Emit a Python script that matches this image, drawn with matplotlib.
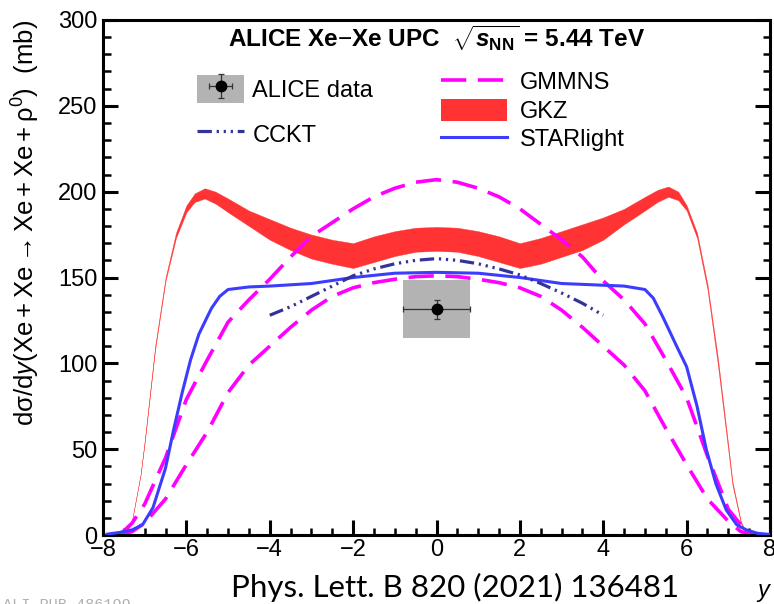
import matplotlib
matplotlib.use("Agg")
import matplotlib.pyplot as plt
from matplotlib.patches import Patch
from matplotlib.lines import Line2D

plt.rcParams['font.family'] = ['Liberation Sans', 'DejaVu Sans']
plt.rcParams['mathtext.fontset'] = 'custom'
plt.rcParams['mathtext.rm'] = 'Liberation Sans'
plt.rcParams['mathtext.it'] = 'Liberation Sans:italic'
plt.rcParams['mathtext.bf'] = 'Liberation Sans:bold'
plt.rcParams['mathtext.bfit'] = 'Liberation Sans:italic:bold'

# GKZ band (lower / upper edge)
gkz_y = [-7.45, -7.3, -7.1, -7.0, -6.75, -6.5, -6.25, -6.0, -5.8, -5.56, -5.3, -5.0,
         -4.5, -4.0, -3.5, -3.0, -2.5, -2.0, -1.5, -1.0, -0.5, 0.0,
         0.5, 1.0, 1.5, 2.0, 2.5, 3.0, 3.5, 4.0, 4.5, 5.0, 5.3, 5.56, 5.8,
         6.0, 6.25, 6.5, 6.75, 7.0, 7.1, 7.3, 7.45]
gkz_hi = [0, 9, 35, 55, 110, 150, 176, 192, 199, 202, 200, 196,
          189, 184, 179, 175, 172, 170, 174, 177, 179, 179.5,
          179, 177, 174, 170, 173, 177, 181, 185, 190, 197, 201, 203, 200,
          192, 176, 146, 103, 52, 31, 8, 0]
gkz_lo = [0, 9, 35, 54, 108, 148, 173, 188, 194, 196, 193, 188,
          180, 172, 166, 161, 158, 155.5, 159, 162.5, 165, 165.5,
          165, 162.5, 159, 155.5, 158, 162, 166, 172, 181, 189, 194, 197, 195,
          189, 173, 143, 99, 49, 29, 7, 0]

# GMMNS (two dashed curves)
gm_y = [-7.6, -7.3, -7.0, -6.5, -6.0, -5.5, -5.0, -4.5, -4.0, -3.5, -3.0, -2.5, -2.0,
        -1.5, -1.0, -0.5, 0.0, 0.5, 1.0, 1.5, 2.0, 2.5, 3.0, 3.5, 4.0, 4.5, 5.0,
        5.5, 6.0, 6.5, 7.0, 7.3, 7.6]
gm_hi = [0, 7, 18, 45, 79, 102, 124, 137, 149, 162, 174, 182, 190,
         197, 202, 205.5, 207, 205.5, 202, 197, 190, 181, 172, 162, 148, 137, 123,
         102, 80, 46, 15, 6, 0]
gm_lo = [0, 2, 7, 21, 41, 60, 83, 99, 110, 121, 131, 139, 144,
         147, 149, 150.5, 151, 150.5, 149, 147, 144, 139, 131, 121, 110, 99, 84,
         62, 41, 21, 8, 2, 0]

# STARlight
sl_y = [-7.9, -7.6, -7.3, -7.05, -6.8, -6.5, -6.3, -6.1, -5.9, -5.7, -5.4, -5.2, -5.0,
        -4.5, -4.0, -3.0, -2.0, -1.0, 0.0, 1.0, 2.0, 3.0, 4.0, 4.5, 5.0, 5.2,
        5.43, 5.78, 6.0, 6.25, 6.47, 6.7, 6.95, 7.2, 7.43, 7.7, 8.0]
sl_v = [0.5, 1.5, 3, 6, 16, 39, 62, 83, 102, 117, 132, 139, 143,
        144.5, 145, 146.5, 150, 152.5, 153, 152.5, 150, 146.5, 145.5, 145, 143, 138,
        127, 109, 98, 75, 50, 30, 14.6, 6, 3, 1, 0.3]

# CCKT
ck_y = [-4.0, -3.5, -3.0, -2.5, -2.0, -1.5, -1.0, -0.5, 0.0, 0.5, 1.0, 1.5, 2.0,
        2.5, 3.0, 3.5, 4.0]
ck_v = [128, 133, 139, 145, 151, 155, 158, 160, 161, 160, 158, 155, 151.5,
        146.5, 141, 135, 128]

# ALICE data point
data_y = [0.0]
data_v = [131.5]
data_stat = [5.5]
data_syst = [17.0]
data_xerr = [0.8]

red = '#ff3333'
magenta = '#ff00ff'
blue = '#3c3cff'
navy = '#333399'
grey = '#b3b3b3'
cckt_ls = (0, (4.5, 1.5, 0.7, 1.5, 0.7, 1.5, 0.7, 1.5))

fig = plt.figure(figsize=(7.74, 6.04), dpi=100)
ax = fig.add_axes([103 / 774, 69 / 604, 667 / 774, 515 / 604])

ax.fill_between(gkz_y, gkz_lo, gkz_hi, color=red, lw=0.25, zorder=1)
ax.plot(gm_y, gm_hi, color=magenta, lw=2.6, ls=(0, (7, 3.2)), zorder=2)
ax.plot(gm_y, gm_lo, color=magenta, lw=2.6, ls=(0, (7, 3.2)), zorder=2)
ax.plot(sl_y, sl_v, color=blue, lw=2.2, zorder=3)
ax.plot(ck_y, ck_v, color=navy, lw=2.3, ls=cckt_ls, zorder=3)

for y, v, e in zip(data_y, data_v, data_syst):
    ax.bar(y, 2 * e, bottom=v - e, width=1.6, color=grey, zorder=4)
eb = ax.errorbar(data_y, data_v, yerr=data_stat, xerr=data_xerr, fmt='o', color='black',
                 ecolor='#333333', elinewidth=0.9, capsize=2.5, capthick=0.9,
                 markersize=7.5, zorder=5)

ax.set_xlim(-8, 8)
ax.set_ylim(0, 300)
ax.set_xticks(range(-8, 9, 2))
ax.set_xticklabels(['\u22128', '\u22126', '\u22124', '\u22122', '0', '2', '4', '6', '8'])
ax.set_yticks(range(0, 301, 50))
ax.set_xticks([x / 2 for x in range(-16, 17)], minor=True)
ax.set_yticks(range(0, 301, 10), minor=True)
ax.tick_params(which='both', direction='in', left=True, right=True, bottom=True, top=False,
               labelsize=17)
ax.tick_params(which='major', length=10.8, width=2.2)
ax.tick_params(which='minor', length=5.4, width=1.8)
ax.tick_params(axis='y', pad=4)
ax.tick_params(axis='x', pad=3)
for s in ax.spines.values():
    s.set_linewidth(2.2)

ax.set_ylabel(r'd$\mathrm{\sigma}$/d$y$$\mathrm{(Xe+Xe \rightarrow Xe+Xe+}\mathrm{\rho}^{0}\mathrm{)}$  (mb)',
              fontsize=18.5, loc='top')
ax.yaxis.set_label_coords(-0.092, 1.0)

ax.text(0.5, (535 - 47) / 515, r'ALICE Xe$-$Xe UPC  $\sqrt{\mathbfit{s}_{\mathbf{NN}}}$ = 5.44 TeV',
        transform=ax.transAxes, ha='center', va='baseline', fontsize=17.5, fontweight='bold')

# legends
box_h = Patch(facecolor=grey, edgecolor='none')
leg1 = ax.legend([(box_h, eb), Line2D([], [], color=navy, lw=2.3, ls=cckt_ls)],
                 ['ALICE data', 'CCKT'], loc='upper left',
                 bbox_to_anchor=((197 - 103) / 667, (535 - 75) / 515),
                 frameon=False, fontsize=17, borderpad=0, borderaxespad=0,
                 handlelength=2.0, handleheight=1.45, handletextpad=0.35, labelspacing=0.72)
ax.add_artist(leg1)
ax.legend([Line2D([], [], color=magenta, lw=2.6, ls=(0, (7, 3.2))),
           Patch(facecolor=red, edgecolor='none'),
           Line2D([], [], color=blue, lw=2.2)],
          ['GMMNS', 'GKZ', 'STARlight'], loc='upper left',
          bbox_to_anchor=((441 - 103) / 667, (535 - 70) / 515),
          frameon=False, fontsize=17, borderpad=0, borderaxespad=0,
          handlelength=2.8, handleheight=1.05, handletextpad=0.55, labelspacing=0.2)

fig.text(763 / 774, 1 - 597 / 604, 'y', fontsize=17, style='italic', ha='center', va='baseline')
fig.text(455 / 774, 1 - 597 / 604, 'Phys. Lett. B 820 (2021) 136481', fontsize=22.5,
         family='Lato', ha='center', va='baseline')
fig.text(3 / 774, 1 - 598 / 604, 'ALI-PUB-486199', fontsize=11, family='Liberation Mono',
         color='#b0b0b0', ha='left', va='top')

fig.savefig('out.png', dpi=100)
